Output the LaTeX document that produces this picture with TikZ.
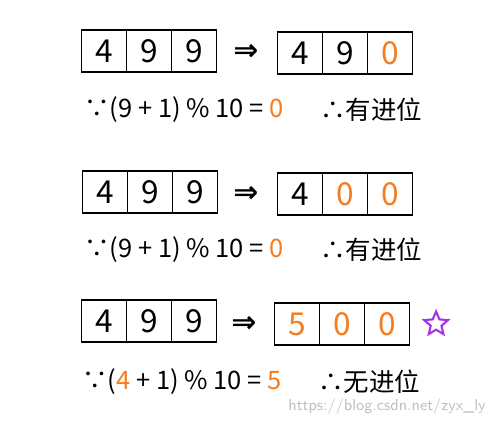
\documentclass[tikz,border=0pt]{standalone}
\usepackage{fontspec}
\newfontfamily\cjk{Noto Sans CJK SC}
\newfontfamily\sym{DejaVu Sans}
\usetikzlibrary{positioning,shapes.geometric}
\definecolor{carry}{HTML}{F57C1F}
\definecolor{starpurple}{HTML}{A634E6}
\begin{document}
\begin{tikzpicture}[x=0.02cm, y=-0.02cm,
	cell/.style={draw, thick, minimum width=0.9cm, minimum height=0.84cm, inner sep=0pt, outer sep=0pt, font=\cjk\fontsize{18}{20}\selectfont},
	hl/.style={text=carry},
	sum/.style={anchor=west, inner sep=0pt, font=\cjk\fontsize{14.5}{17}\selectfont},
	to/.style={font=\sym\bfseries\fontsize{17}{20}\selectfont}]
		\useasboundingbox (0,0) rectangle (490,425);
		% 4 9 9 -> 4 9 0
		\node[cell] at (104,51) (A1) {4};
		\node[cell, right=0pt of A1] (A2) {9};
		\node[cell, right=0pt of A2] (A3) {9};
		\node[to] at (246,52) (T1) {⇒};
		\node[cell] at (300,53) (B1) {4};
		\node[cell, right=0pt of B1] (B2) {9};
		\node[cell, hl, right=0pt of B2] (B3) {0};
		\node[sum] at (84,110) (S1) {∵(9 + 1) \% 10 = \textcolor{carry}{0}};
		\node[sum] at (320,110) (R1) {∴有进位};
		% 4 9 9 -> 4 0 0
		\node[cell] at (105,192) (A4) {4};
		\node[cell, right=0pt of A4] (A5) {9};
		\node[cell, right=0pt of A5] (A6) {9};
		\node[to] at (246,194) (T2) {⇒};
		\node[cell] at (300,194) (B4) {4};
		\node[cell, hl, right=0pt of B4] (B5) {0};
		\node[cell, hl, right=0pt of B5] (B6) {0};
		\node[sum] at (84,250) (S2) {∵(9 + 1) \% 10 = \textcolor{carry}{0}};
		\node[sum] at (320,250) (R2) {∴有进位};
		% 4 9 9 -> 5 0 0
		\node[cell] at (104,321) (A7) {4};
		\node[cell, right=0pt of A7] (A8) {9};
		\node[cell, right=0pt of A8] (A9) {9};
		\node[to] at (244,324) (T3) {⇒};
		\node[cell, hl] at (297,324) (B7) {5};
		\node[cell, hl, right=0pt of B7] (B8) {0};
		\node[cell, hl, right=0pt of B8] (B9) {0};
		\node[star, star points=5, star point ratio=2.2, draw=starpurple, very thick, minimum size=0.5cm, inner sep=0pt, right=10pt of B9] (Star) {};
		\node[sum] at (82,382) (S3) {∵(\textcolor{carry}{4} + 1) \% 10 = \textcolor{carry}{5}};
		\node[sum] at (318,382) (R3) {∴无进位};
		\node[text=black!25, font=\sffamily\small] at (387,407) (W) {https://blog.csdn.net/zyx\_ly};
\end{tikzpicture}
\end{document}
